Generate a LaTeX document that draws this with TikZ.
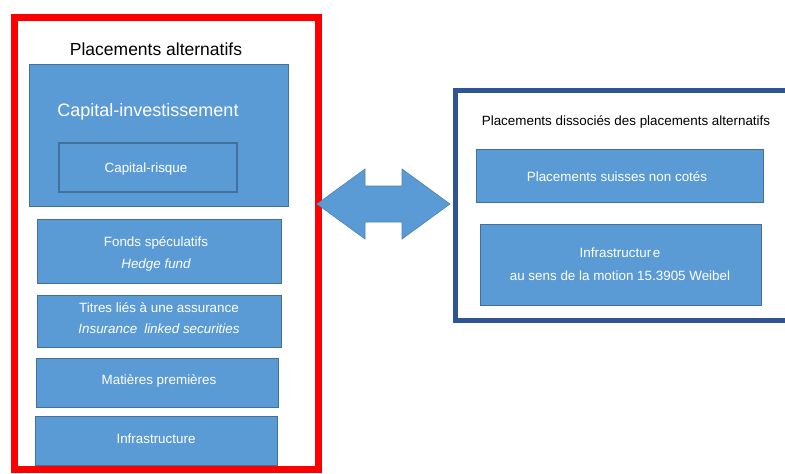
\documentclass[tikz,border=0pt]{standalone}
\usepackage{fontspec}
\setmainfont{Liberation Sans}
\definecolor{boxblue}{HTML}{5B9BD5}
\definecolor{boxedge}{HTML}{41719C}
\definecolor{frameblue}{HTML}{2F5597}
\tikzset{
  bluebox/.style={draw=boxedge, fill=boxblue, line width=0.9pt},
  innerbox/.style={draw=boxedge, fill=boxblue, line width=1.1pt},
  btext/.style={text=white, font=\fontsize{13.4}{16}\selectfont, align=center, inner sep=0pt},
  ttext/.style={text=black, inner sep=0pt}
}
\begin{document}
\begin{tikzpicture}[x=1pt,y=-1pt]
\useasboundingbox (0,0) rectangle (785,474);
\clip (0,0) rectangle (785,474);
% red frame
\draw[red, line width=7pt] (14.5,17.5) rectangle (318.5,469);
\node[ttext, font=\fontsize{17.5}{20}\selectfont] (ttl) at (156,49) {Placements alternatifs};
% capital-investissement
\draw[bluebox] (29,64) rectangle (288,206);
\node[text=white, inner sep=0pt, font=\fontsize{18}{20}\selectfont] (ci) at (148,112) {Capital-investissement};
\draw[innerbox] (59,143) rectangle (237,192);
\node[btext] (cr) at (146,169) {Capital-risque};
% other boxes
\draw[bluebox] (37,219) rectangle (281,283);
\node[btext] (fs) at (156,243) {Fonds spéculatifs};
\node[btext, font=\fontsize{13.4}{16}\selectfont\itshape] (hf) at (156,265) {Hedge fund};
\draw[bluebox] (37,295) rectangle (281,347);
\node[btext] (tl) at (159,308) {Titres liés à une assurance};
\node[btext, font=\fontsize{13.4}{16}\selectfont\itshape] (ils) at (159,329) {Insurance\hspace{0.25em} linked securities};
\draw[bluebox] (36,358) rectangle (278,407);
\node[btext] (mp) at (159,381) {Matières premières};
\draw[bluebox] (35,416) rectangle (277,465);
\node[btext] (inf) at (156,439) {Infrastructure};
% blue frame
\draw[frameblue, line width=5pt] (455.5,90) rectangle (795,320);
\node[ttext, font=\fontsize{13.4}{16}\selectfont] (pd) at (626,122) {Placements dissociés des placements alternatifs};
\draw[bluebox] (476,149) rectangle (763,202);
\node[btext] (ps) at (617,177) {Placements suisses non cotés};
\draw[bluebox] (480,224) rectangle (761,305);
\node[btext] (inf2) at (620,253) {Infrastructur\hspace{0.12em}e};
\node[btext] (mot) at (620,276) {au sens de la motion 15.3905 Weibel};
% double arrow
\coordinate (al) at (317,204);
\coordinate (ar) at (450,204);
\fill[boxblue, draw=boxedge!60!boxblue, line width=0.6pt]
  (al) -- (365,169) -- (365,186) -- (402,186) -- (402,169) -- (ar)
  -- (402,239) -- (402,222) -- (365,222) -- (365,239) -- cycle;
\end{tikzpicture}
\end{document}
